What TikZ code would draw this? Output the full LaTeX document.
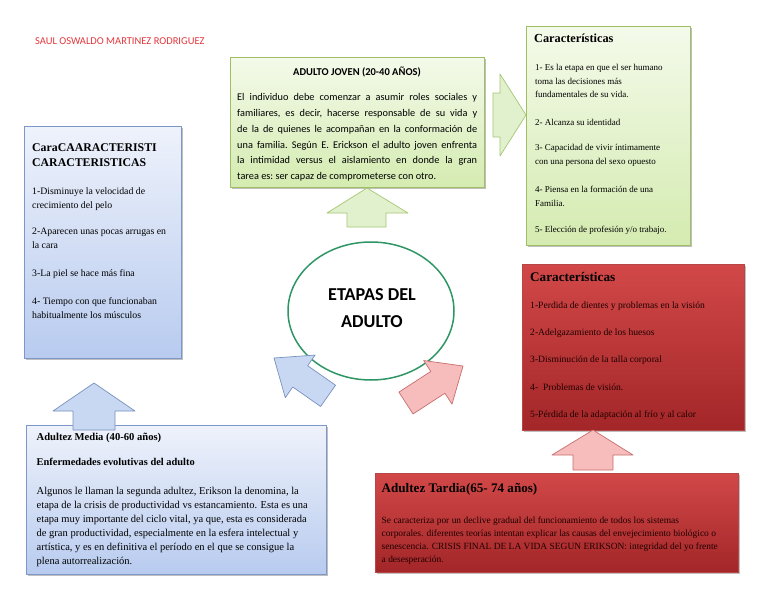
\documentclass[tikz,border=0pt]{standalone}
\usepackage{fontspec}
\setmainfont{Liberation Serif}
\newfontfamily\carl{Carlito}
\usetikzlibrary{shapes.geometric,shadows}
\definecolor{gtop}{RGB}{244,250,234}
\definecolor{gbot}{RGB}{212,235,176}
\definecolor{gline}{RGB}{160,190,100}
\definecolor{btop}{RGB}{238,242,251}
\definecolor{bbot}{RGB}{184,203,239}
\definecolor{bline}{RGB}{125,152,200}
\definecolor{rtop}{RGB}{210,72,72}
\definecolor{rbot}{RGB}{163,38,40}
\definecolor{rline}{RGB}{185,70,70}
\definecolor{rtext}{RGB}{30,0,0}
\definecolor{author}{RGB}{228,55,60}
\definecolor{ell}{RGB}{46,150,100}
\definecolor{garf}{RGB}{226,241,205}
\definecolor{garl}{RGB}{165,198,115}
\definecolor{barf}{RGB}{200,216,243}
\definecolor{barl}{RGB}{120,145,190}
\definecolor{rarf}{RGB}{247,188,188}
\definecolor{rarl}{RGB}{200,110,110}
\newcommand\jl[1]{\hbox to 240pt{\strut #1}}
\begin{document}
\begin{tikzpicture}[x=1pt,y=-1pt,
  box/.style={rectangle, anchor=north west, inner sep=0pt, line width=0.7pt,
    drop shadow={opacity=0.25, shadow xshift=1.3pt, shadow yshift=-1.3pt, fill=black}},
  gbox/.style={box, draw=gline, top color=gtop, bottom color=gbot},
  bbox/.style={box, draw=bline, top color=btop, bottom color=bbot},
  rbox/.style={box, draw=rline, top color=rtop, bottom color=rbot},
  txt/.style={anchor=north west, inner sep=0pt, align=left},
  bl/.style={anchor=base west, inner sep=0pt},
  item/.style={txt, font=\fontsize{9}{13.7}\selectfont},
  litem/.style={txt, font=\fontsize{9.8}{14}\selectfont},
  garrow/.style={fill=garf, draw=garl, line width=0.7pt, line join=round},
  barrow/.style={fill=barf, draw=barl, line width=0.7pt, line join=round},
  rarrow/.style={fill=rarf, draw=rarl, line width=0.7pt, line join=round},
]
\useasboundingbox (0,0) rectangle (768,594);
\fill[white] (0,0) rectangle (768,594);

% author
\node[bl, text=author, font=\carl\fontsize{10.5}{12}\selectfont] (author) at (35,44.5) {SAUL OSWALDO MARTINEZ RODRIGUEZ};

% boxes
\node[gbox, minimum width=254, minimum height=130] (aj) at (230,57) {};
\node[gbox, minimum width=164, minimum height=219] (gcar) at (526,26) {};
\node[bbox, minimum width=157, minimum height=232] (lcar) at (24,126) {};
\node[rbox, minimum width=222, minimum height=166] (rcar) at (522,264) {};
\node[bbox, minimum width=300, minimum height=149] (media) at (26,425) {};
\node[rbox, minimum width=363, minimum height=99] (tardia) at (375,473) {};

% ellipse
\node[ellipse, draw=ell, fill=white, line width=1.5pt, minimum width=166, minimum height=138] (etapas) at (371,311) {};
\node[align=center, inner sep=0pt, font=\carl\bfseries\fontsize{18.2}{27}\selectfont] (etapastxt) at (372,308.5) {ETAPAS DEL\\ADULTO};

% arrows
\filldraw[garrow] (493,93) -- (500,93) -- (500,74) -- (526,115) -- (500,156) -- (500,137) -- (493,137) -- cycle;
\filldraw[garrow] (367,188) -- (408,213) -- (386,213) -- (386,227) -- (347,227) -- (347,213) -- (327,213) -- cycle;
\filldraw[barrow] (94,383) -- (135,411) -- (115,411) -- (115,430) -- (73,430) -- (73,411) -- (53,411) -- cycle;
\filldraw[rarrow] (593,430) -- (633,455) -- (613,455) -- (613,470) -- (573,470) -- (573,455) -- (552,455) -- cycle;
\begin{scope}[shift={(274,358)}, rotate=145]
\filldraw[barrow] (0,0) -- (-32,26) -- (-32,13) -- (-66,13) -- (-66,-13) -- (-32,-13) -- (-32,-26) -- cycle;
\end{scope}
\begin{scope}[shift={(463,366)}, rotate=33]
\filldraw[rarrow] (0,0) -- (-30,26) -- (-30,13) -- (-68,13) -- (-68,-13) -- (-30,-13) -- (-30,-26) -- cycle;
\end{scope}

% ADULTO JOVEN
\node[anchor=base, inner sep=0pt, font=\carl\bfseries\fontsize{10.5}{12}\selectfont] (ajt) at (357,75.3) {ADULTO JOVEN (20-40 AÑOS)};
\node[txt, font=\carl\fontsize{10.3}{15.8}\selectfont] (ajb) at (237,89.4) {\parbox[t]{240pt}{\frenchspacing\spaceskip=2.33pt plus 10pt minus 0.9pt
\jl{El individuo debe comenzar a asumir roles sociales y}
\jl{familiares, es decir, hacerse responsable de su vida y}
\jl{de la de quienes le acompañan en la conformación de}
\jl{una familia. Según E. Erickson el adulto joven enfrenta}
\jl{la intimidad versus el aislamiento en donde la gran}
\hbox{\strut tarea es: ser capaz de comprometerse con otro.}}};

% green Caracteristicas
\node[bl, font=\bfseries\fontsize{12.3}{14}\selectfont] (gct) at (534,42.2) {Características};
\node[item] (g1) at (535,60.8) {\strut 1- Es la etapa en que el ser humano\\toma las decisiones más\\fundamentales de su vida.};
\node[item] (g2) at (535,115.8) {\strut 2- Alcanza su identidad};
\node[item] (g3) at (535,140.8) {\strut 3- Capacidad de vivir íntimamente\\con una persona del sexo opuesto};
\node[item] (g4) at (535,182.8) {\strut 4- Piensa en la formación de una\\Familia.};
\node[item] (g5) at (535,222.8) {\strut 5- Elección de profesión y/o trabajo.};

% left blue box
\node[txt, font=\bfseries\fontsize{11.8}{15}\selectfont] (lct) at (32,140.3) {\strut CaraCAARACTERISTI\\CARACTERISTICAS};
\node[litem] (l1) at (32,184) {\strut 1-Disminuye la velocidad de\\crecimiento del pelo};
\node[litem] (l2) at (32,224.5) {\strut 2-Aparecen unas pocas arrugas en\\la cara};
\node[litem] (l3) at (32,266) {\strut 3-La piel se hace más fina};
\node[litem] (l4) at (32,294) {\strut 4- Tiempo con que funcionaban\\habitualmente los músculos};

% red Caracteristicas
\node[bl, text=black, font=\bfseries\fontsize{13.2}{14}\selectfont] (rct) at (530,281.4) {Características};
\begin{scope}[every node/.style={bl, text=rtext, font=\fontsize{9.6}{11}\selectfont}]
\node (r1) at (530,308.8) {1-Perdida de dientes y problemas en la visión};
\node (r2) at (530,335.4) {2-Adelgazamiento de los huesos};
\node (r3) at (530,362.1) {3-Disminución de la talla corporal};
\node (r4) at (530,390.4) {4-\ \ Problemas de visión.};
\node (r5) at (530,417.1) {5-Pérdida de la adaptación al frío y al calor};
\end{scope}

% Adultez Media
\node[bl, font=\bfseries\fontsize{10.6}{12}\selectfont] (mt) at (36.5,440.5) {Adultez Media (40-60 años)};
\node[bl, font=\bfseries\fontsize{10.4}{12}\selectfont] (ms) at (36.5,465.2) {Enfermedades evolutivas del adulto};
\node[txt, font=\fontsize{10.5}{14}\selectfont] (mb) at (36.5,484.2) {\strut Algunos le llaman la segunda adultez, Erikson la denomina, la\\
etapa de la crisis de productividad vs estancamiento. Esta es una\\
etapa muy importante del ciclo vital, ya que, esta es considerada\\
de gran productividad, especialmente en la esfera intelectual y\\
artística, y es en definitiva el período en el que se consigue la\\
plena autorrealización.};

% Adultez Tardia
\node[bl, text=black, font=\bfseries\fontsize{13.1}{14}\selectfont] (tt) at (381.5,492.4) {Adultez Tardia(65- 74 años)};
\node[txt, text=rtext, font=\fontsize{9.45}{12.8}\selectfont] (tb) at (381.5,514.7) {\strut Se caracteriza por un declive gradual del funcionamiento de todos los sistemas\\
corporales. diferentes teorías intentan explicar las causas del envejecimiento biológico o\\
senescencia. CRISIS FINAL DE LA VIDA SEGUN ERIKSON: integridad del yo frente\\
a desesperación.};
\end{tikzpicture}
\end{document}
